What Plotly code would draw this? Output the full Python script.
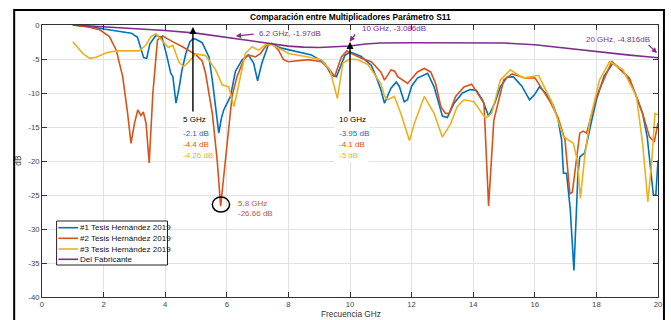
import plotly.graph_objects as go

# ---- measured S11 curves (frequency in GHz, magnitude in dB) ----
freq_1 = [1.0, 1.5, 2.0, 2.5, 2.9, 3.1, 3.2, 3.3, 3.4, 3.5, 3.7, 3.9, 4.05, 4.18, 4.25,
          4.35, 4.45, 4.55, 4.67, 4.8, 4.9, 5.0, 5.2, 5.42, 5.53, 5.69, 5.74, 5.82, 5.9,
          6.0, 6.12, 6.28, 6.5, 6.7, 6.87, 7.0, 7.14, 7.35, 7.46, 7.78, 8.3, 8.75, 9.18,
          9.4, 9.56, 9.83, 10.0, 10.35, 10.69, 10.85, 11.0, 11.12, 11.33, 11.5, 11.6,
          11.76, 11.87, 12.0, 12.19, 12.52, 12.73, 12.85, 13.0, 13.16, 13.38, 13.65, 13.9,
          14.1, 14.3, 14.5, 14.7, 14.88, 15.1, 15.3, 15.58, 15.83, 16.0, 16.15, 16.35,
          16.6, 16.75, 16.87, 16.93, 17.03, 17.15, 17.27, 17.4, 17.46, 17.62, 17.8, 18.0,
          18.25, 18.54, 18.8, 19.07, 19.3, 19.5, 19.65, 19.77, 19.85, 19.93, 20.0]
s11_1 = [0.0, -0.2, -0.6, -0.9, -1.2, -1.8, -3.2, -4.8, -4.9, -2.8, -1.5, -1.9, -4.5, -7.1,
         -7.6, -11.5, -9.3, -6.5, -4.2, -2.5, -2.0, -2.1, -2.6, -4.7, -8.1, -14.0, -15.9,
         -13.8, -12.5, -11.6, -10.5, -6.8, -5.1, -4.4, -5.6, -8.2, -5.6, -2.9, -2.8, -3.4,
         -3.9, -4.4, -5.6, -7.4, -7.6, -4.5, -3.95, -4.6, -5.9, -7.6, -9.5, -11.5, -9.3,
         -8.4, -9.0, -11.3, -11.0, -9.0, -7.8, -7.1, -9.1, -11.0, -13.4, -13.6, -11.5,
         -10.0, -9.5, -9.6, -11.0, -13.4, -11.5, -9.1, -7.7, -7.6, -9.0, -11.0, -10.2,
         -9.1, -10.0, -11.8, -13.8, -16.9, -21.8, -21.8, -27.0, -36.1, -22.0, -19.4,
         -18.8, -15.0, -11.0, -7.5, -5.6, -6.5, -8.0, -10.5, -13.0, -16.5, -21.3, -25.0,
         -25.0, -19.9]

freq_2 = [1.0, 1.5, 1.87, 2.19, 2.41, 2.62, 2.78, 2.89, 3.0, 3.11, 3.21, 3.29, 3.38, 3.48,
          3.6, 3.75, 3.91, 4.02, 4.24, 4.56, 4.88, 5.0, 5.2, 5.31, 5.53, 5.69, 5.8, 5.9,
          5.96, 6.06, 6.17, 6.33, 6.55, 6.7, 6.93, 7.09, 7.3, 7.46, 7.68, 7.84, 8.0, 8.65,
          9.07, 9.35, 9.5, 9.72, 9.9, 10.0, 10.37, 10.69, 11.0, 11.12, 11.33, 11.45, 11.55,
          11.87, 12.19, 12.41, 12.62, 12.78, 12.95, 13.1, 13.22, 13.43, 13.7, 13.95, 14.2,
          14.35, 14.5, 14.67, 14.99, 15.26, 15.69, 16.01, 16.5, 16.76, 16.98, 17.14, 17.22,
          17.46, 17.57, 17.68, 18.0, 18.5, 19.07, 19.5, 19.72, 19.88, 20.0]
s11_2 = [0.0, -0.3, -0.7, -1.7, -3.7, -7.6, -13.0, -17.4, -14.5, -12.5, -13.3, -12.8,
         -14.5, -20.3, -10.0, -2.2, -1.6, -1.9, -2.45, -3.2, -4.1, -4.4, -5.3, -7.1, -13.0,
         -20.0, -26.66, -22.0, -19.9, -14.5, -10.5, -7.6, -5.1, -4.4, -4.7, -4.2, -2.9,
         -2.7, -3.7, -5.1, -5.4, -5.1, -5.4, -6.6, -7.6, -4.7, -3.8, -4.1, -4.9, -5.4,
         -6.9, -8.1, -6.6, -6.8, -7.6, -8.6, -6.9, -6.4, -6.9, -8.6, -12.0, -13.0, -13.0,
         -10.5, -9.1, -8.7, -10.5, -11.5, -26.6, -14.0, -8.1, -7.2, -7.8, -7.8, -11.3,
         -13.7, -16.9, -24.8, -24.6, -15.9, -15.6, -15.9, -10.5, -5.4, -7.8, -13.0, -16.4,
         -17.2, -14.4]

freq_3 = [1.0, 1.33, 1.55, 1.76, 2.09, 2.41, 2.84, 3.16, 3.38, 3.54, 3.7, 3.9, 4.1, 4.25,
          4.45, 4.6, 4.75, 5.0, 5.31, 5.64, 5.85, 6.06, 6.23, 6.33, 6.6, 6.82, 7.03, 7.25,
          7.46, 7.68, 8.0, 8.65, 9.07, 9.35, 9.59, 9.77, 10.0, 10.26, 10.58, 11.0, 11.12,
          11.23, 11.44, 11.65, 11.93, 12.09, 12.41, 12.73, 13.0, 13.27, 13.48, 13.7, 14.02,
          14.4, 14.6, 14.88, 15.2, 15.63, 16.12, 16.55, 16.93, 17.25, 17.38, 17.48, 17.62,
          17.79, 18.1, 18.43, 18.86, 19.3, 19.5, 19.67, 19.8, 19.9, 20.0]
s11_3 = [-2.45, -4.2, -4.9, -4.75, -4.1, -3.8, -3.8, -3.8, -2.9, -1.7, -1.3, -2.3, -3.3,
         -3.0, -5.5, -6.1, -5.5, -4.26, -4.5, -6.6, -8.8, -9.1, -12.0, -10.0, -4.2, -3.2,
         -3.7, -2.9, -2.9, -3.4, -4.2, -4.7, -5.1, -6.6, -10.8, -5.6, -5.0, -5.1, -5.8,
         -8.6, -10.5, -11.0, -10.5, -13.0, -17.0, -14.5, -10.5, -13.0, -16.5, -14.5, -12.0,
         -11.0, -11.3, -13.7, -13.0, -8.1, -6.6, -7.8, -7.4, -11.3, -16.4, -17.4, -19.9,
         -25.5, -19.4, -14.0, -8.1, -5.4, -6.6, -10.5, -17.4, -26.0, -19.9, -13.0, -13.2]

# manufacturer curve
freq_fab = [1, 2, 3, 4, 5, 6, 6.2, 7, 8, 8.5, 9, 9.5, 10, 10.5, 11, 12, 13, 14, 15, 16,
            17, 18, 19, 20]
s11_fab = [0.0, -0.25, -0.5, -0.8, -1.2, -1.8, -1.97, -2.5, -3.1, -3.25, -3.3, -3.2,
           -3.086, -2.8, -2.65, -2.6, -2.6, -2.6, -2.65, -2.9, -3.4, -3.95, -4.4, -4.816]

series_names = ["#1 Tesis Hernández 2019", "#2 Tesis Hernández 2019",
                "#3 Tesis Hernández 2019", "Del Fabricante"]
series_colors = ["#0072BD", "#D95319", "#EDB120", "#7E2F8E"]

x_ticks = [0, 2, 4, 6, 8, 10, 12, 14, 16, 18, 20]
y_ticks = [0, -5, -10, -15, -20, -25, -30, -35, -40]
y_tick_text = ["0", "-5", "-10", "-15", "-20", "-25", "-30", "-35", "-40"]

# readouts at marked frequencies
mark_5 = [("5 GHz", "#000000"), ("-2.1 dB", series_colors[0]),
          ("-4.4 dB", series_colors[1]), ("-4.26 dB", series_colors[2])]
mark_10 = [("10 GHz", "#000000"), ("-3.95 dB", series_colors[0]),
           ("-4.1 dB", series_colors[1]), ("-5 dB", series_colors[2])]

FONT = "Liberation Sans, Arial, sans-serif"
W, H = 671, 320
ML, MR, MT, MB = 42, 9, 25, 23
PW, PH = W - ML - MR, H - MT - MB


def dx(px):
    return (px - ML) / PW * 20.0


def dy(py):
    return -(py - MT) / PH * 40.0


def paper_x(px):
    return (px - ML) / PW


def paper_y(py):
    return (H - MB - py) / PH


fig = go.Figure()
for fx, fy, name, col in zip([freq_1, freq_2, freq_3, freq_fab],
                             [s11_1, s11_2, s11_3, s11_fab],
                             series_names, series_colors):
    fig.add_trace(go.Scatter(x=fx, y=fy, mode="lines", name=name,
                             line=dict(color=col, width=1.6), showlegend=False))

shapes = []
# white boxes behind the readout text
for (x0, x1, y0, y1) in [(180, 214, 112, 161), (336, 371, 112, 162), (235, 284, 196, 219)]:
    shapes.append(dict(type="rect", xref="x", yref="y", x0=dx(x0), x1=dx(x1),
                       y0=dy(y1), y1=dy(y0), fillcolor="white", line=dict(width=0),
                       layer="between"))
# circle around the 5.8 GHz minimum
shapes.append(dict(type="circle", xref="x", yref="y", x0=5.53, x1=6.09, y0=-27.5, y1=-25.3,
                   line=dict(color="black", width=1.5)))
# legend box and line samples
shapes.append(dict(type="rect", xref="paper", yref="paper", x0=paper_x(56.7), x1=paper_x(168.3),
                   y0=paper_y(265), y1=paper_y(221), fillcolor="white",
                   line=dict(color="#222222", width=1)))
legend_rows = [227.7, 238.3, 249.0, 259.3]
for py, col in zip(legend_rows, series_colors):
    shapes.append(dict(type="line", xref="paper", yref="paper", x0=paper_x(58.5), x1=paper_x(78.3),
                       y0=paper_y(py), y1=paper_y(py), line=dict(color=col, width=1.6)))
# outer frame
shapes.append(dict(type="rect", xref="paper", yref="paper", x0=paper_x(14), x1=paper_x(668),
                   y0=paper_y(340), y1=paper_y(10), line=dict(color="black", width=2)))

ann = []
for py, name in zip(legend_rows, series_names):
    ann.append(dict(xref="paper", yref="paper", x=paper_x(78.5), y=paper_y(py), text=name,
                    showarrow=False, xanchor="left", yanchor="middle",
                    font=dict(family=FONT, size=8, color="#111111")))

for left, rows in [(182, mark_5), (338.5, mark_10)]:
    for py, (txt, col) in zip([119.5, 133, 144.5, 155.5], rows):
        ann.append(dict(x=dx(left), y=dy(py), text=txt, showarrow=False, xanchor="left",
                        yanchor="middle", font=dict(family=FONT, size=8, color=col)))

for py, txt in [(203, "5.8 GHz"), (213.5, "-26.66 dB")]:
    ann.append(dict(x=dx(237), y=dy(py), text=txt, showarrow=False, xanchor="left",
                    yanchor="middle", font=dict(family=FONT, size=8, color=series_colors[1])))

# vertical arrows at 5 and 10 GHz
for xa, tail, tip in [(4.9, 113, 27), (10.0, 113, 42)]:
    ann.append(dict(x=xa, y=dy(tip), ax=xa, ay=dy(tail), axref="x", ayref="y", text="",
                    showarrow=True, arrowhead=2, arrowsize=1, arrowwidth=1.4,
                    arrowcolor="black"))

# manufacturer readouts
for (tx, ty, txt), (tipx, tipy, tailx, taily) in zip(
        [(258, 33.3, "6.2 GHz, -1.97dB"), (362, 28.3, "10 GHz, -3.086dB"),
         (588, 39, "20 GHz, -4.816dB")],
        [(237, 36, 256.5, 34), (351.5, 41.5, 358.5, 33), (661, 53, 651, 43.5)]):
    ann.append(dict(x=dx(tx), y=dy(ty), text=txt, showarrow=False, xanchor="left",
                    yanchor="middle", font=dict(family=FONT, size=8, color=series_colors[3])))
    ann.append(dict(x=dx(tipx), y=dy(tipy), ax=dx(tailx), ay=dy(taily), axref="x", ayref="y",
                    text="", showarrow=True, arrowhead=2, arrowsize=0.9, arrowwidth=1.2,
                    arrowcolor=series_colors[3]))

# title and axis titles
ann.append(dict(xref="paper", yref="paper", x=paper_x(353), y=paper_y(17.5),
                text="<b>Comparación entre Multiplicadores Parámetro S11</b>", showarrow=False,
                xanchor="center", yanchor="middle", font=dict(family=FONT, size=8.4, color="black")))
ann.append(dict(xref="paper", yref="paper", x=paper_x(353), y=paper_y(313.5),
                text="Frecuencia GHz", showarrow=False, xanchor="center", yanchor="middle",
                font=dict(family=FONT, size=8.3, color="#333333")))
ann.append(dict(xref="paper", yref="paper", x=paper_x(17.5), y=paper_y(160),
                text="dB", showarrow=False, textangle=-90, xanchor="center", yanchor="middle",
                font=dict(family=FONT, size=8.3, color="#333333")))

axis_common = dict(showgrid=True, gridcolor="#e2e2e2", gridwidth=1, zeroline=False,
                   showline=True, linecolor="#333333", linewidth=1, mirror="ticks",
                   ticks="inside", ticklen=5, tickcolor="#333333",
                   tickfont=dict(family=FONT, size=7.7, color="#444444"))

fig.update_layout(
    width=W, height=H,
    margin=dict(l=ML, r=MR, t=MT, b=MB, pad=0),
    paper_bgcolor="white", plot_bgcolor="white",
    xaxis=dict(range=[0, 20], tickvals=x_ticks, **axis_common),
    yaxis=dict(range=[-40, 0], tickvals=y_ticks, ticktext=y_tick_text, **axis_common),
    shapes=shapes, annotations=ann, showlegend=False,
)

fig.write_html("out.html")
